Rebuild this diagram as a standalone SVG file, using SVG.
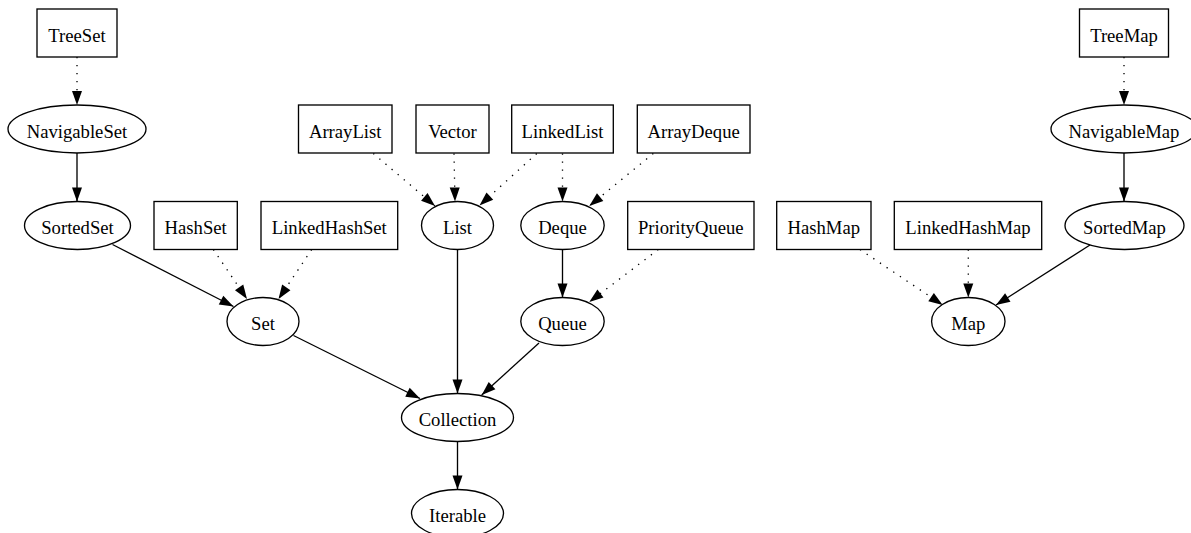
<svg xmlns="http://www.w3.org/2000/svg" width="1191" height="533" viewBox="0 0 1191 533">
<style>
.n rect, .n ellipse { fill: none; stroke: #000; stroke-width: 1.33; }
.n text { font-family: "Liberation Serif", "Times New Roman", serif; font-size: 18.67px; text-anchor: middle; fill: #000; }
.e line { fill: none; stroke: #000; stroke-width: 1.33; marker-end: url(#arr); }
.e line.d { stroke-dasharray: 1.33 6.67; }
</style>
<defs>
<marker id="arr" markerUnits="userSpaceOnUse" markerWidth="16" markerHeight="12" refX="14" refY="5" orient="auto" overflow="visible">
<path d="M0,0 L14,5 L0,10 Z" fill="#000" stroke="none"/>
</marker>
</defs>
<rect x="0" y="0" width="1191" height="533" fill="#fff"/>
<g class="e" id="edges">
<line class="d" x1="77" y1="57" x2="77" y2="105"/>
<line x1="77" y1="153" x2="77" y2="201.5"/>
<line x1="112.5" y1="244.5" x2="233.5" y2="306.5"/>
<line class="d" x1="213.3" y1="249.5" x2="247" y2="299"/>
<line class="d" x1="311.7" y1="249.5" x2="278.5" y2="299"/>
<line class="d" x1="373.3" y1="153.5" x2="435" y2="206"/>
<line class="d" x1="454" y1="153.5" x2="455" y2="201.5"/>
<line class="d" x1="536.7" y1="153.5" x2="479.5" y2="205.5"/>
<line class="d" x1="562.5" y1="153.5" x2="562.5" y2="201.5"/>
<line class="d" x1="653.3" y1="153.5" x2="589.3" y2="206"/>
<line x1="562.5" y1="249.5" x2="562.5" y2="297.5"/>
<line class="d" x1="658.3" y1="249.5" x2="589.3" y2="302"/>
<line x1="293.5" y1="335.5" x2="420" y2="398.5"/>
<line x1="457.5" y1="249.5" x2="457.5" y2="393.5"/>
<line x1="539" y1="343" x2="481.7" y2="395"/>
<line x1="457.5" y1="441.5" x2="457.5" y2="489.5"/>
<line class="d" x1="1124" y1="57" x2="1124" y2="105"/>
<line x1="1124" y1="153" x2="1124" y2="201.5"/>
<line class="d" x1="860" y1="249.5" x2="942.7" y2="305"/>
<line class="d" x1="968.3" y1="249.5" x2="968.3" y2="297.5"/>
<line x1="1090" y1="245" x2="996" y2="305"/>
</g>
<g class="n" id="TreeSet"><rect x="37" y="9" width="80" height="48"/><text x="77" y="41.7">TreeSet</text></g>
<g class="n" id="TreeMap"><rect x="1079.5" y="9" width="89" height="48"/><text x="1124" y="41.7">TreeMap</text></g>
<g class="n" id="NavigableSet"><ellipse cx="77" cy="129" rx="69" ry="24"/><text x="77" y="137.7">NavigableSet</text></g>
<g class="n" id="ArrayList"><rect x="298.5" y="105" width="93.5" height="48"/><text x="345.2" y="137.7">ArrayList</text></g>
<g class="n" id="Vector"><rect x="416" y="105" width="73" height="48"/><text x="452.5" y="137.7">Vector</text></g>
<g class="n" id="LinkedList"><rect x="511.7" y="105" width="101.6" height="48"/><text x="562.5" y="137.7">LinkedList</text></g>
<g class="n" id="ArrayDeque"><rect x="637.3" y="105" width="112.7" height="48"/><text x="693.7" y="137.7">ArrayDeque</text></g>
<g class="n" id="NavigableMap"><ellipse cx="1124" cy="129" rx="73" ry="24"/><text x="1124" y="137.7">NavigableMap</text></g>
<g class="n" id="SortedSet"><ellipse cx="77.5" cy="225.5" rx="53" ry="24"/><text x="77.5" y="234.2">SortedSet</text></g>
<g class="n" id="HashSet"><rect x="154" y="201.5" width="83.3" height="48"/><text x="195.7" y="234.2">HashSet</text></g>
<g class="n" id="LinkedHashSet"><rect x="261" y="201.5" width="136.7" height="48"/><text x="329.3" y="234.2">LinkedHashSet</text></g>
<g class="n" id="List"><ellipse cx="457.5" cy="225.5" rx="36" ry="24"/><text x="457.5" y="234.2">List</text></g>
<g class="n" id="Deque"><ellipse cx="562.5" cy="225.5" rx="41.7" ry="24"/><text x="562.5" y="234.2">Deque</text></g>
<g class="n" id="PriorityQueue"><rect x="627.7" y="201.5" width="126.3" height="48"/><text x="690.8" y="234.2">PriorityQueue</text></g>
<g class="n" id="HashMap"><rect x="776.7" y="201.5" width="94.3" height="48"/><text x="823.8" y="234.2">HashMap</text></g>
<g class="n" id="LinkedHashMap"><rect x="894.3" y="201.5" width="147.4" height="48"/><text x="968" y="234.2">LinkedHashMap</text></g>
<g class="n" id="SortedMap"><ellipse cx="1124.5" cy="225.5" rx="59.5" ry="24"/><text x="1124.5" y="234.2">SortedMap</text></g>
<g class="n" id="Set"><ellipse cx="263" cy="321.5" rx="36" ry="24"/><text x="263" y="330.2">Set</text></g>
<g class="n" id="Queue"><ellipse cx="562.5" cy="321.5" rx="41.7" ry="24"/><text x="562.5" y="330.2">Queue</text></g>
<g class="n" id="Map"><ellipse cx="968.3" cy="321.5" rx="36.7" ry="24"/><text x="968.3" y="330.2">Map</text></g>
<g class="n" id="Collection"><ellipse cx="457.5" cy="417.5" rx="56" ry="24"/><text x="457.5" y="426.2">Collection</text></g>
<g class="n" id="Iterable"><ellipse cx="457.5" cy="513.5" rx="46" ry="24"/><text x="457.5" y="522.2">Iterable</text></g>
</svg>
